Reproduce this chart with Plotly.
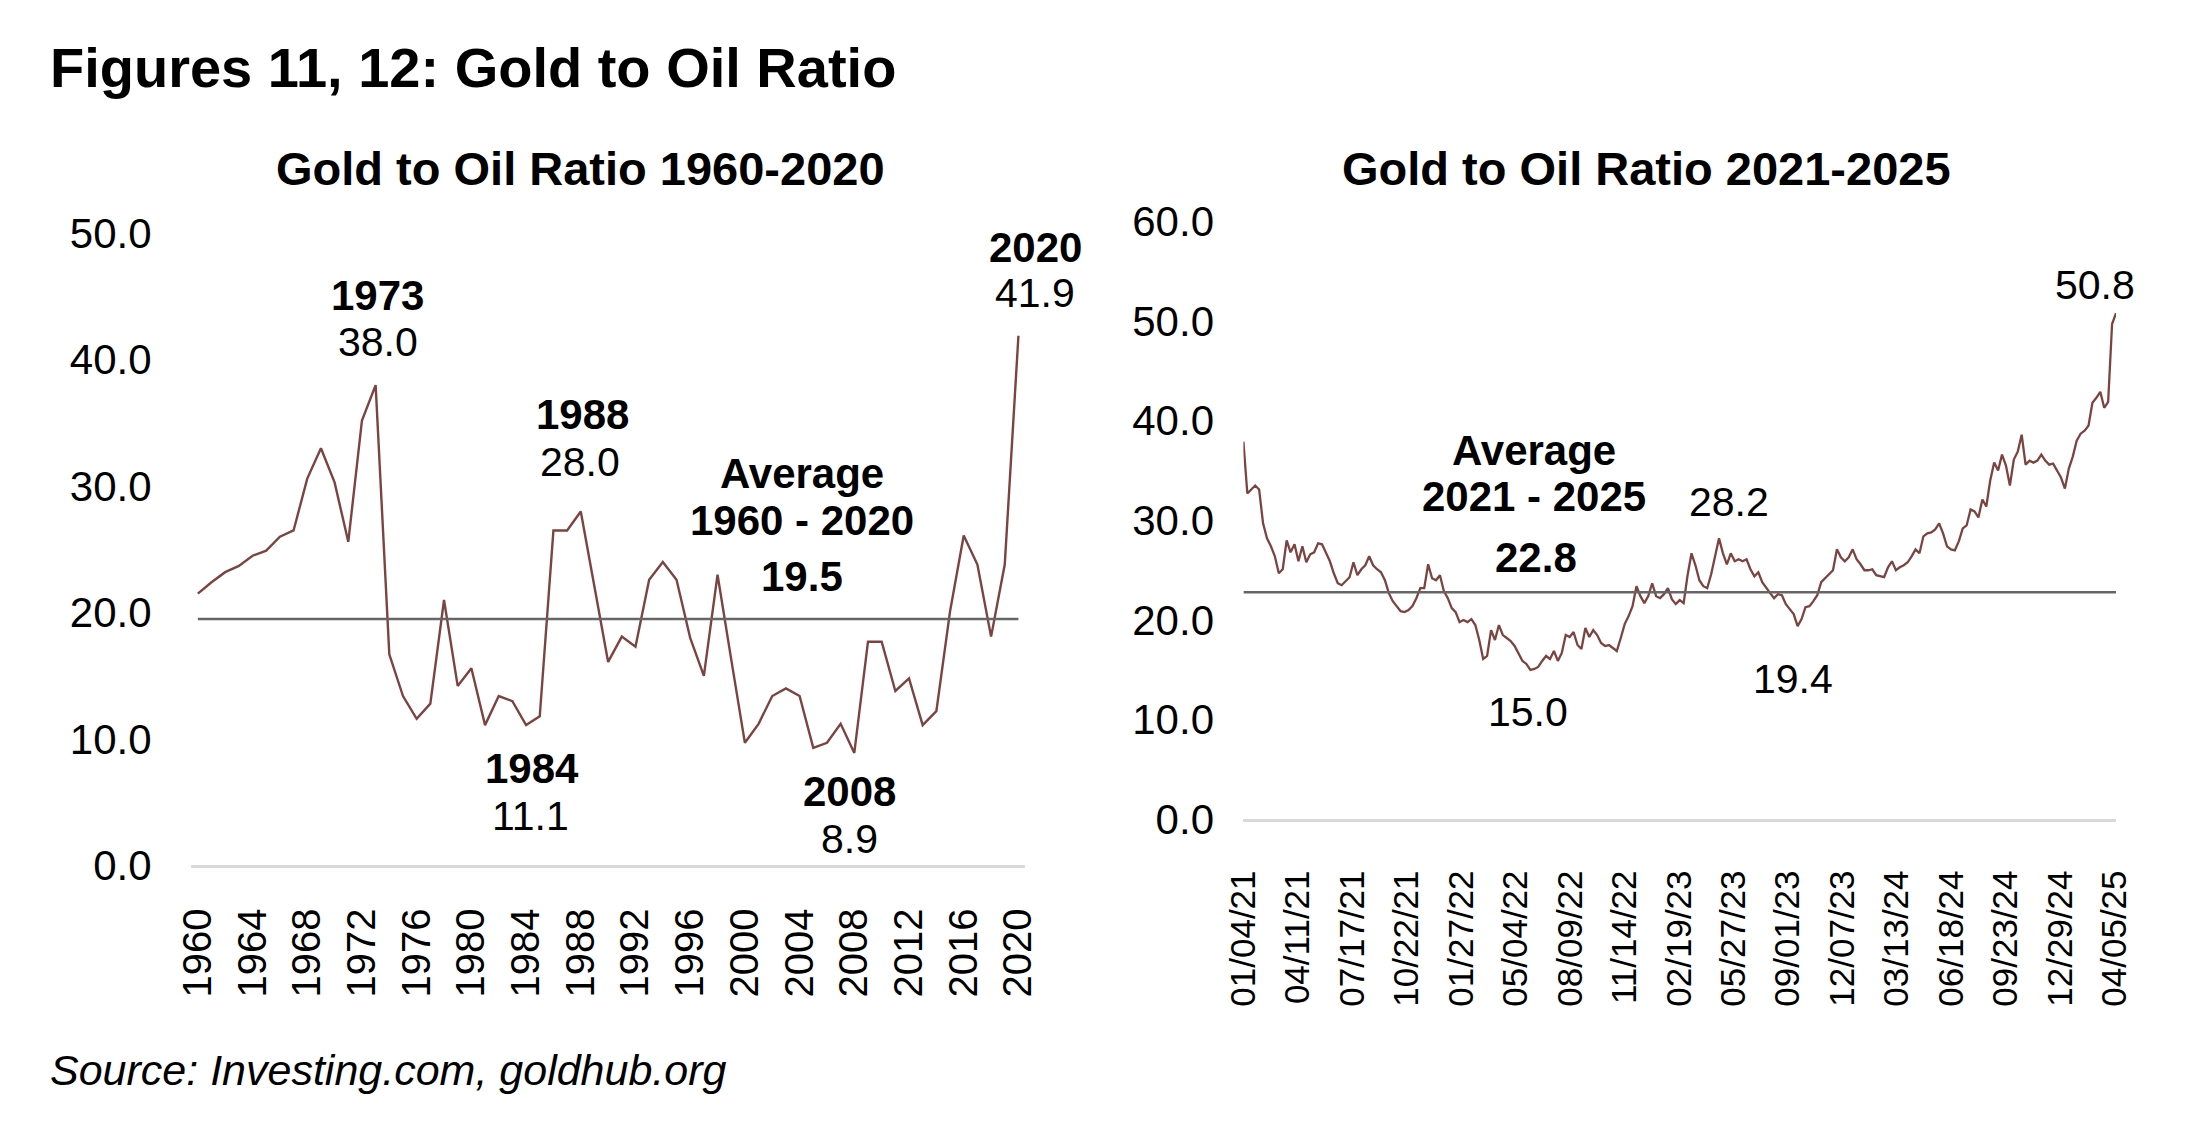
import plotly.graph_objects as go
import pandas as pd

W, H = 2190, 1130
FONT = "Liberation Sans, Arial, sans-serif"
LINE_COLOR = "#7B4441"
AVG_COLOR = "#666666"

# ---------------- data: Figure 11 (annual, 1960-2020) ----------------
years = list(range(1960, 2021))
ratio_annual = [
    21.5, 22.4, 23.2, 23.7, 24.5, 24.9, 26.0, 26.5, 30.6, 33.0,
    30.3, 25.6, 35.2, 38.0, 16.7, 13.4, 11.6, 12.8, 21.0, 14.2,
    15.6, 11.1, 13.4, 13.0, 11.1, 11.8, 26.5, 26.5, 28.0, 22.0,
    16.1, 18.1, 17.3, 22.6, 24.0, 22.6, 18.0, 15.0, 23.0, 16.3,
    9.7, 11.2, 13.4, 14.0, 13.4, 9.3, 9.7, 11.2, 8.9, 17.7,
    17.7, 13.8, 14.8, 11.1, 12.2, 20.1, 26.1, 23.8, 18.1, 23.8,
    41.9,
]
avg_annual = 19.5
left_tick_years = list(range(1960, 2021, 4))
left_y_ticks = [0, 10, 20, 30, 40, 50]

# ---------------- data: Figure 12 (weekly, 2021-2025) ----------------
weekly_start = "2021-01-04"
ratio_weekly = [
    37.9, 32.7, 33.1, 33.5, 33.1, 29.7, 28.2, 27.4, 26.4, 24.7,
    25.1, 28.0, 26.8, 27.6, 25.9, 27.4, 25.8, 26.6, 26.8, 27.7,
    27.6, 26.8, 25.9, 24.7, 23.7, 23.5, 23.9, 24.3, 25.8, 24.5,
    25.1, 25.5, 26.4, 25.5, 25.1, 24.8, 24.0, 22.7, 21.9, 21.4,
    20.9, 20.8, 21.0, 21.4, 22.2, 23.2, 23.2, 25.6, 24.2, 24.0,
    24.5, 22.9, 22.2, 21.2, 20.8, 19.8, 20.0, 19.8, 20.1, 19.5,
    18.0, 16.1, 16.4, 19.0, 18.0, 19.5, 18.5, 18.2, 17.9, 17.4,
    16.6, 15.9, 15.6, 15.0, 15.1, 15.3, 15.9, 16.4, 16.1, 16.9,
    15.9, 16.7, 18.5, 18.3, 18.8, 17.5, 17.1, 19.2, 18.3, 19.0,
    18.5, 17.7, 17.4, 17.5, 17.2, 16.9, 18.2, 19.6, 20.4, 21.4,
    23.4, 22.4, 21.7, 22.4, 23.7, 22.4, 22.2, 22.6, 23.2, 22.1,
    21.6, 22.0,
    21.7, 24.5, 26.7, 25.5, 24.0, 23.4, 23.2, 24.6, 26.4, 28.2,
    26.7, 25.6, 26.7, 25.9, 26.1, 25.9, 26.1, 25.1, 24.4, 24.8,
    23.8, 23.2, 22.7, 22.2, 22.6, 22.5, 21.6, 21.1, 20.6, 19.4,
    20.1, 21.3, 21.4, 21.9, 22.5, 23.8, 24.2, 24.6, 25.0, 27.1,
    26.3, 25.9, 26.3, 27.1, 26.1, 25.6, 25.0, 25.0, 25.1, 24.5,
    24.4, 24.3, 25.3, 25.9, 25.0, 25.3, 25.5, 25.8, 26.4, 27.1,
    26.7, 28.4, 28.7, 28.8, 29.1, 29.7, 28.7, 27.4, 27.1, 27.0,
    27.9, 29.2, 29.5, 31.1, 30.9, 30.3, 32.1, 31.4, 34.0, 35.8,
    35.0, 36.6, 35.5, 33.5, 36.1, 36.9, 38.6, 35.6, 36.0, 35.8,
    36.0, 36.6, 36.0, 35.6, 35.7, 35.0, 34.3, 33.2, 35.2, 36.4,
    38.0, 38.7, 39.0, 39.5, 41.8, 42.3, 42.9, 41.3, 41.9, 49.7,
    50.8,
]
avg_weekly = 22.8
weekly_dates = pd.date_range(weekly_start, periods=len(ratio_weekly), freq="7D")
right_tick_dates = pd.date_range("2021-01-04", periods=17, freq="97D")
right_tick_text = [d.strftime("%m/%d/%y") for d in right_tick_dates]
right_y_ticks = [0, 10, 20, 30, 40, 50, 60]


def px(x):
    return x / W


def py(y):
    return 1 - y / H


fig = go.Figure()

fig.add_trace(go.Scatter(
    x=years, y=ratio_annual, mode="lines",
    line=dict(color=LINE_COLOR, width=2.4), xaxis="x", yaxis="y",
    showlegend=False, hoverinfo="skip"))
fig.add_trace(go.Scatter(
    x=[years[0], years[-1]], y=[avg_annual, avg_annual], mode="lines",
    line=dict(color=AVG_COLOR, width=2.4), xaxis="x", yaxis="y",
    showlegend=False, hoverinfo="skip"))

fig.add_trace(go.Scatter(
    x=weekly_dates, y=ratio_weekly, mode="lines",
    line=dict(color=LINE_COLOR, width=2.3), xaxis="x2", yaxis="y2",
    showlegend=False, hoverinfo="skip"))
fig.add_trace(go.Scatter(
    x=[weekly_dates[0], weekly_dates[-1]], y=[avg_weekly, avg_weekly], mode="lines",
    line=dict(color=AVG_COLOR, width=2.4), xaxis="x2", yaxis="y2",
    showlegend=False, hoverinfo="skip"))

axis_common = dict(showgrid=False, zeroline=False, fixedrange=True,
                   tickcolor="rgba(0,0,0,0)", ticks="outside")

fig.update_layout(
    width=W, height=H, autosize=False,
    margin=dict(l=0, r=0, t=0, b=0),
    paper_bgcolor="white", plot_bgcolor="white",
    font=dict(family=FONT, color="black"),
    xaxis=dict(domain=[px(173), px(1022)], range=[1959.5, 2020.5],
               tickvals=left_tick_years, ticktext=[str(v) for v in left_tick_years],
               tickangle=-90, tickfont=dict(size=40, family=FONT, color="black"),
               showline=True, linecolor="#d9d9d9", linewidth=3, ticklen=24,
               anchor="y", **axis_common),
    yaxis=dict(domain=[py(879), py(219.5)], range=[0, 50],
               tickvals=left_y_ticks, tickformat=".1f",
               tickfont=dict(size=42, family=FONT, color="black"),
               showline=False, ticklen=30, anchor="x", **axis_common),
    xaxis2=dict(domain=[px(1244), px(2132)], type="date",
                range=[weekly_dates[0], weekly_dates[-1]],
                tickvals=right_tick_dates, ticktext=right_tick_text,
                tickangle=-90, tickfont=dict(size=35, family=FONT, color="black"),
                showline=True, linecolor="#d9d9d9", linewidth=3, ticklen=34,
                anchor="y2", **axis_common),
    yaxis2=dict(domain=[py(831), py(207)], range=[0, 60],
                tickvals=right_y_ticks, tickformat=".1f",
                tickfont=dict(size=42, family=FONT, color="black"),
                showline=False, ticklen=20, anchor="x2", **axis_common),
)

# text labels: (text, x_px, y_px, size, xanchor)
labels = [
    ("<b>Figures 11, 12: Gold to Oil Ratio</b>", 27, 46, 56, "left"),
    ("<b>Gold to Oil Ratio 1960-2020</b>", 569, 152, 47, "center"),
    ("<b>Gold to Oil Ratio 2021-2025</b>", 1654, 152, 47, "center"),
    ("<b>1973</b>", 363, 284, 42, "center"),
    ("38.0", 363, 333, 41, "center"),
    ("<b>1988</b>", 571, 409, 42, "center"),
    ("28.0", 569, 458, 41, "center"),
    ("<b>Average</b>", 795, 470, 42, "center"),
    ("<b>1960 - 2020</b>", 795, 519, 42, "center"),
    ("<b>19.5</b>", 795, 578, 42, "center"),
    ("<b>2020</b>", 1032, 234, 42, "center"),
    ("41.9", 1032, 282, 41, "center"),
    ("<b>1984</b>", 520, 778, 42, "center"),
    ("11.1", 519, 827, 41, "center"),
    ("<b>2008</b>", 843, 802, 42, "center"),
    ("8.9", 843, 851, 41, "center"),
    ("<b>Average</b>", 1540, 446, 42, "center"),
    ("<b>2021 - 2025</b>", 1540, 494, 42, "center"),
    ("<b>22.8</b>", 1542, 558, 42, "center"),
    ("15.0", 1534, 719, 41, "center"),
    ("28.2", 1738, 500, 41, "center"),
    ("19.4", 1803, 684, 41, "center"),
    ("50.8", 2111, 273, 41, "center"),
    ("<i>Source: Investing.com, goldhub.org</i>", 27, 1092, 43, "left"),
]

for text, x, y, size, xa in labels:
    fig.add_annotation(
        text=text, x=px(x), y=py(y), xref="paper", yref="paper",
        xanchor=xa, yanchor="middle", showarrow=False,
        font=dict(size=size, family=FONT, color="black"))

fig.write_html(
    "out.html",
    config={"displayModeBar": False, "staticPlot": True},
    post_script="document.body.style.margin='0';document.body.style.overflow='hidden';",
)
